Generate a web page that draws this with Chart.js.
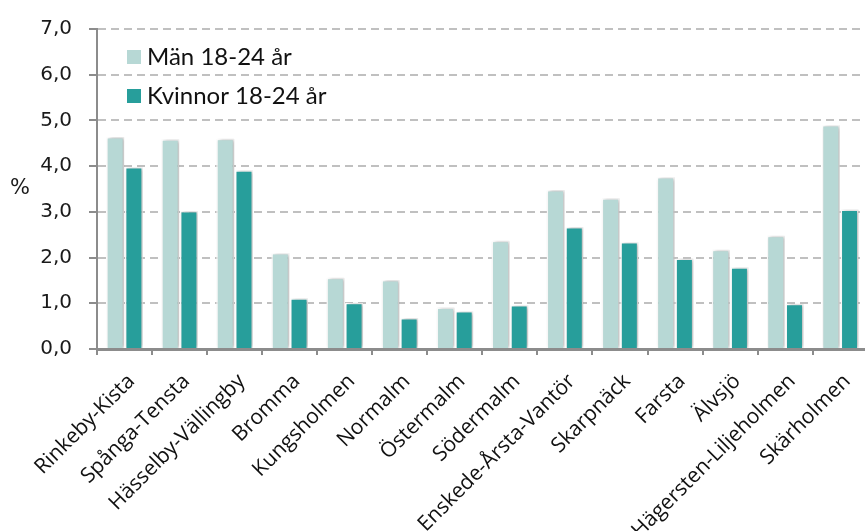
<!DOCTYPE html>
<html lang="sv">
<head>
<meta charset="utf-8">
<script src="https://cdn.jsdelivr.net/npm/chart.js@4"></script>
<style>
  html, body { margin: 0; padding: 0; background: #fff; overflow: hidden; }
  #wrap { position: relative; width: 872px; height: 531px; }
  #yTitle { position: absolute; left: 10px; top: 175px; font: 21px "DejaVu Sans", sans-serif; color: #1a1a1a; }
</style>
</head>
<body>
<div id="wrap">
  <canvas id="chart" width="872" height="531"></canvas>
  <div id="yTitle">%</div>
</div>
<script>
// Stadsdelar
const categories = [
  'Rinkeby-Kista', 'Spånga-Tensta', 'Hässelby-Vällingby', 'Bromma', 'Kungsholmen',
  'Normalm', 'Östermalm', 'Södermalm', 'Enskede-Årsta-Vantör', 'Skarpnäck',
  'Farsta', 'Älvsjö', 'Hägersten-Liljeholmen', 'Skärholmen'
];

// Andel i procent
const man = [4.64, 4.59, 4.60, 2.10, 1.56, 1.51, 0.91, 2.37, 3.48, 3.30, 3.76, 2.17, 2.48, 4.90];
const kvinnor = [3.98, 3.02, 3.91, 1.11, 1.01, 0.68, 0.83, 0.96, 2.67, 2.34, 1.98, 1.79, 0.99, 3.05];

const yTicks = [0, 1, 2, 3, 4, 5, 6, 7];
const seriesNames = ['Män 18-24 år', 'Kvinnor 18-24 år'];
const seriesColors = ['#b7d8d5', '#279e9b'];

// Skugga bakom staplarna
const shadowPlugin = {
  id: 'barShadow',
  beforeDatasetsDraw(chart) {
    const ctx = chart.ctx;
    ctx.save();
    ctx.shadowColor = 'rgba(0,0,0,0.28)';
    ctx.shadowBlur = 4;
    ctx.shadowOffsetX = 2;
    ctx.shadowOffsetY = 0;
  },
  afterDatasetsDraw(chart) {
    chart.ctx.restore();
  }
};

// Egen legend inne i diagrammet
const legendPlugin = {
  id: 'innerLegend',
  afterDraw(chart) {
    const ctx = chart.ctx;
    ctx.save();
    ctx.font = '24px Lato, sans-serif';
    ctx.textBaseline = 'middle';
    chart.data.datasets.forEach((ds, i) => {
      const y = 57 + i * 39;
      ctx.fillStyle = ds.backgroundColor;
      ctx.fillRect(127, y - 7, 14, 14);
      ctx.fillStyle = '#111';
      ctx.fillText(ds.label, 147, y);
    });
    ctx.restore();
  }
};

new Chart(document.getElementById('chart'), {
  type: 'bar',
  data: {
    labels: categories,
    datasets: [
      { label: seriesNames[0], data: man, backgroundColor: seriesColors[0] },
      { label: seriesNames[1], data: kvinnor, backgroundColor: seriesColors[1] }
    ]
  },
  options: {
    responsive: false,
    animation: false,
    devicePixelRatio: 1,
    layout: { padding: { top: 27, right: 0, left: 0, bottom: 0 } },
    datasets: {
      bar: {
        borderColor: '#ffffff',
        borderWidth: 1.5,
        categoryPercentage: 0.68,
        barPercentage: 0.96
      }
    },
    plugins: {
      legend: { display: false },
      tooltip: { enabled: false }
    },
    scales: {
      x: {
        grid: {
          drawOnChartArea: false,
          drawTicks: true,
          tickLength: 6,
          color: '#8c8c8c',
          lineWidth: 2
        },
        border: { color: '#8c8c8c', width: 3 },
        ticks: {
          minRotation: 45,
          maxRotation: 45,
          autoSkip: false,
          padding: 14,
          labelOffset: 7,
          color: '#111',
          font: { family: '"Open Sans", sans-serif', size: 21 }
        },
        afterFit(scale) { scale.height = 182; }
      },
      y: {
        min: 0,
        max: 7,
        afterBuildTicks(scale) { scale.ticks = yTicks.map(v => ({ value: v })); },
        grid: {
          color: '#c0c0c0',
          lineWidth: 2,
          tickBorderDash: [],
          tickColor: '#8c8c8c',
          tickLength: 8
        },
        border: { color: '#8c8c8c', width: 2, dash: [8, 5] },
        ticks: {
          padding: 17,
          color: '#1a1a1a',
          font: { family: '"DejaVu Sans", sans-serif', size: 20 },
          callback: v => v.toFixed(1).replace('.', ',')
        },
        afterFit(scale) { scale.width = 97; }
      }
    }
  },
  plugins: [shadowPlugin, legendPlugin]
});
</script>
</body>
</html>
